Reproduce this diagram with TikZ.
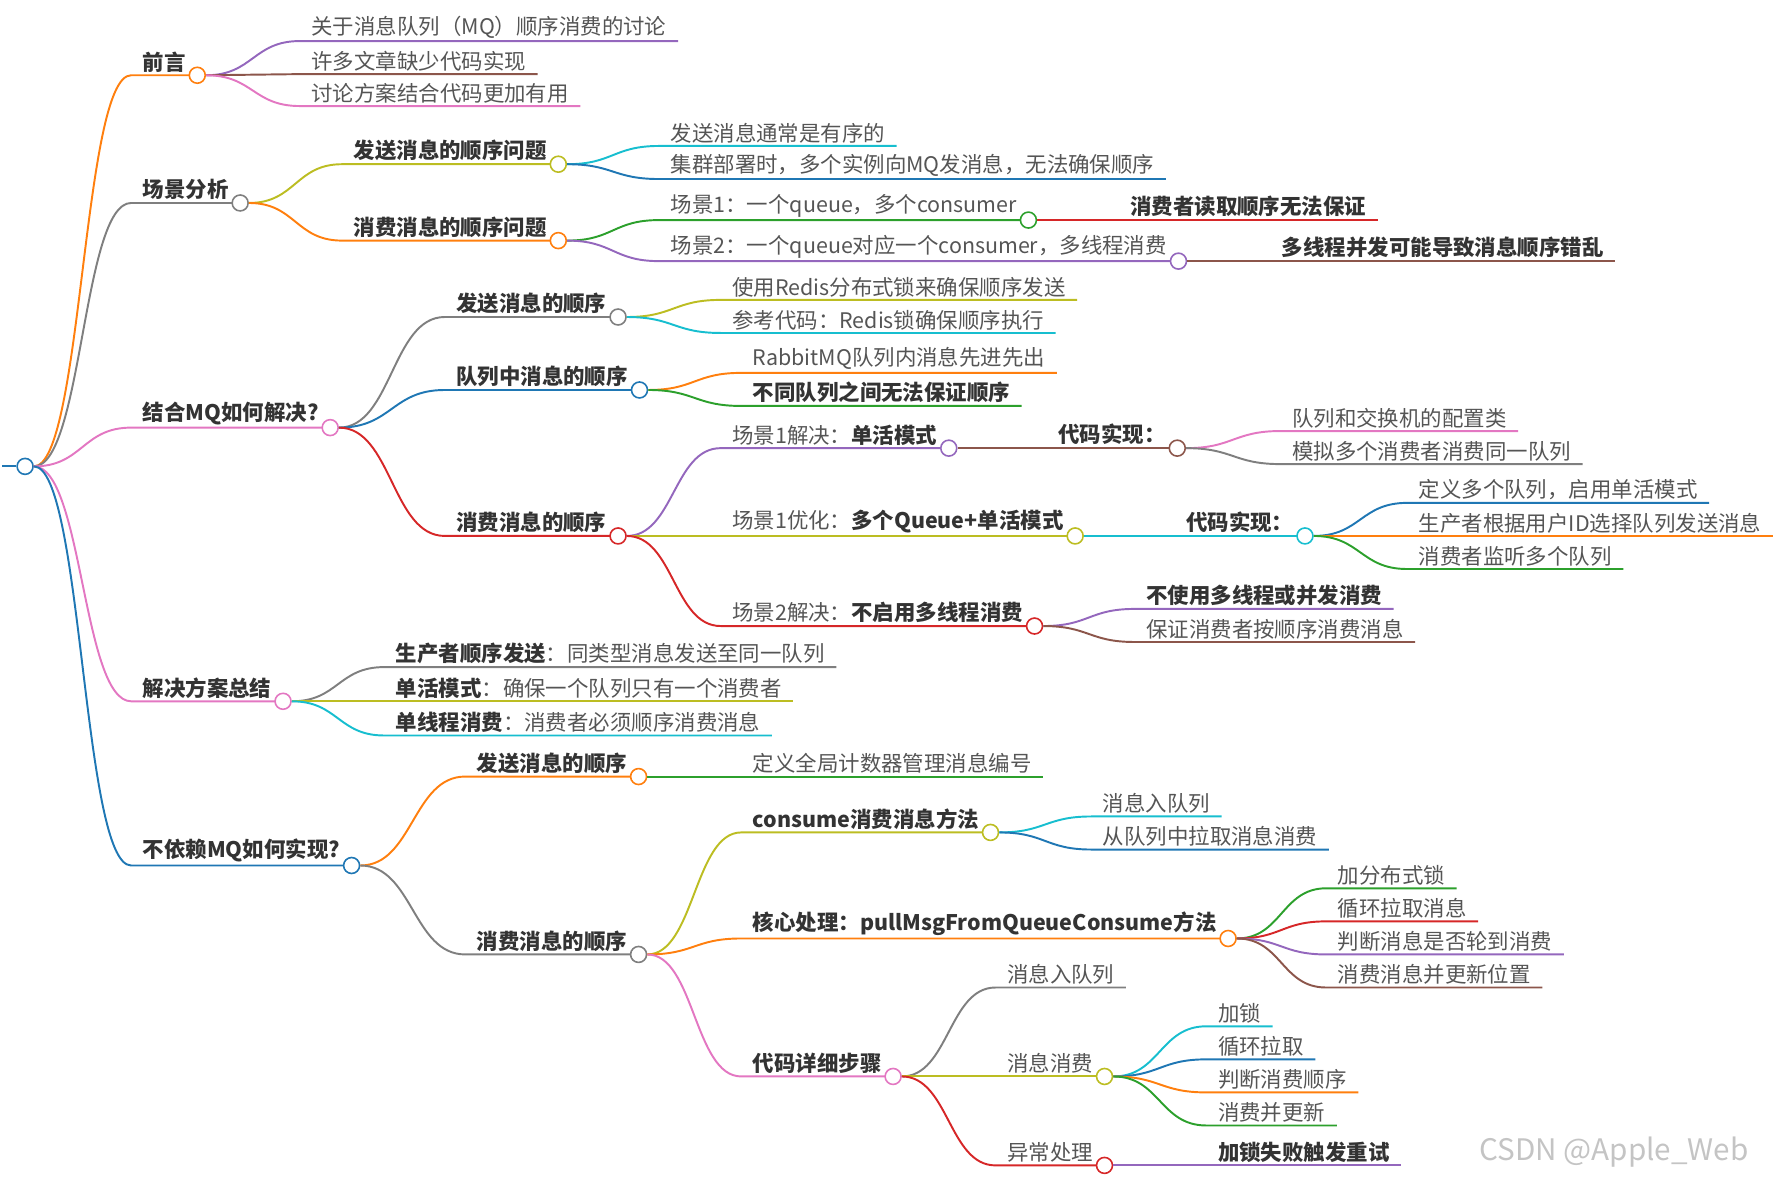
\documentclass[tikz,border=0pt]{standalone}
\usepackage{fontspec}
\setmainfont{Noto Sans CJK SC}
\usetikzlibrary{calc}
\definecolor{cblue}{HTML}{1F77B4}
\definecolor{corange}{HTML}{FF7F0E}
\definecolor{cgreen}{HTML}{2CA02C}
\definecolor{cred}{HTML}{D62728}
\definecolor{cpurple}{HTML}{9467BD}
\definecolor{cbrown}{HTML}{8C564B}
\definecolor{cpink}{HTML}{E377C2}
\definecolor{cgray}{HTML}{7F7F7F}
\definecolor{colive}{HTML}{BCBD22}
\definecolor{ccyan}{HTML}{17BECF}
\definecolor{leafgray}{HTML}{555555}
\definecolor{keygray}{HTML}{333333}
\definecolor{wmgray}{HTML}{C4C4C4}
\tikzset{
  leaf/.style={anchor=south west, inner xsep=10pt, inner ysep=2.5pt, text=leafgray, font=\fontsize{18.8}{21}\selectfont},
  key/.style={leaf, text=keygray, font=\fontsize{18.8}{21}\selectfont\bfseries},
  dot/.style={circle, fill=white, line width=1.4pt, minimum size=14pt, inner sep=0pt},
  br/.style={line width=1.7pt},
}
\newcommand{\bough}[3]{\draw[br,#1] let \p1=(#2.east), \p2=(#3.south west) in (\p1) .. controls ({(\x1+\x2)/2},\y1) and ({(\x1+\x2)/2},\y2) .. (\p2) -- (#3.south east);}
\newcommand{\hb}[1]{{\bfseries\color{keygray}#1}}
\begin{document}
\begin{tikzpicture}[x=1pt, y=-1pt]
\useasboundingbox (0,0) rectangle (1568,1035);

% root
\coordinate (stem) at (2,409);
\node[dot,draw=cblue] (root) at (22,409) {};
\draw[br,cblue] (stem) -- (root.west);

% 前言
\node[key] (qy) at (115,66) {前言};
\bough{corange}{root}{qy}
\node[dot,draw=corange] (qyo) at (qy.south east) {};
\node[leaf] (qy1) at (263,36) {关于消息队列（MQ）顺序消费的讨论};
\node[leaf] (qy2) at (263,65) {许多文章缺少代码实现};
\node[leaf] (qy3) at (263,93) {讨论方案结合代码更加有用};
\bough{cpurple}{qyo}{qy1}
\bough{cbrown}{qyo}{qy2}
\bough{cpink}{qyo}{qy3}

% 场景分析
\node[key] (cj) at (115,178) {场景分析};
\bough{cgray}{root}{cj}
\node[dot,draw=cgray] (cjo) at (cj.south east) {};
\node[key] (cj1) at (300,144) {发送消息的顺序问题};
\node[key] (cj2) at (300,211) {消费消息的顺序问题};
\bough{colive}{cjo}{cj1}
\bough{corange}{cjo}{cj2}
\node[dot,draw=colive] (cj1o) at (cj1.south east) {};
\node[dot,draw=corange] (cj2o) at (cj2.south east) {};
\node[leaf] (cj11) at (578,128) {发送消息通常是有序的};
\node[leaf] (cj12) at (578,157) {集群部署时，多个实例向MQ发消息，无法确保顺序};
\bough{ccyan}{cj1o}{cj11}
\bough{cblue}{cj1o}{cj12}
\node[leaf] (cj21) at (578,193) {场景1：一个queue，多个consumer};
\node[leaf] (cj22) at (578,229) {场景2：一个queue对应一个consumer，多线程消费};
\bough{cgreen}{cj2o}{cj21}
\bough{cpurple}{cj2o}{cj22}
\node[dot,draw=cgreen] (cj21o) at (cj21.south east) {};
\node[dot,draw=cpurple] (cj22o) at (cj22.south east) {};
\node[key] (cj211) at (981,193) {消费者读取顺序无法保证};
\node[key] (cj221) at (1114,229) {多线程并发可能导致消息顺序错乱};
\bough{cred}{cj21o}{cj211}
\bough{cbrown}{cj22o}{cj221}

% 结合MQ如何解决?
\node[key] (jh) at (115,375) {结合MQ如何解决?};
\bough{cpink}{root}{jh}
\node[dot,draw=cpink] (jho) at (jh.south east) {};
\node[key] (jh1) at (390,278) {发送消息的顺序};
\node[key] (jh2) at (390,342) {队列中消息的顺序};
\node[key] (jh3) at (390,470) {消费消息的顺序};
\bough{cgray}{jho}{jh1}
\bough{cblue}{jho}{jh2}
\bough{cred}{jho}{jh3}
\node[dot,draw=cgray] (jh1o) at (jh1.south east) {};
\node[dot,draw=cblue] (jh2o) at (jh2.south east) {};
\node[dot,draw=cred] (jh3o) at (jh3.south east) {};
\node[leaf] (jh11) at (632,263) {使用Redis分布式锁来确保顺序发送};
\node[leaf] (jh12) at (632,292) {参考代码：Redis锁确保顺序执行};
\bough{colive}{jh1o}{jh11}
\bough{ccyan}{jh1o}{jh12}
\node[leaf] (jh21) at (650,327) {RabbitMQ队列内消息先进先出};
\node[key] (jh22) at (650,356) {不同队列之间无法保证顺序};
\bough{corange}{jh2o}{jh21}
\bough{cgreen}{jh2o}{jh22}
\node[leaf] (jh31) at (632,393) {场景1解决：\hb{单活模式}};
\node[leaf] (jh32) at (632,470) {场景1优化：\hb{多个Queue+单活模式}};
\node[leaf] (jh33) at (632,549) {场景2解决：\hb{不启用多线程消费}};
\bough{cpurple}{jh3o}{jh31}
\bough{colive}{jh3o}{jh32}
\bough{cred}{jh3o}{jh33}
\node[dot,draw=cpurple] (jh31o) at (jh31.south east) {};
\node[dot,draw=colive] (jh32o) at (jh32.south east) {};
\node[dot,draw=cred] (jh33o) at (jh33.south east) {};
\node[key] (jh311) at (918,393) {代码实现：};
\bough{cbrown}{jh31o}{jh311}
\node[dot,draw=cbrown] (jh311o) at (jh311.south east) {};
\node[leaf] (jh3111) at (1123,378) {队列和交换机的配置类};
\node[leaf] (jh3112) at (1123,407) {模拟多个消费者消费同一队列};
\bough{cpink}{jh311o}{jh3111}
\bough{cgray}{jh311o}{jh3112}
\node[key] (jh321) at (1030,470) {代码实现：};
\bough{ccyan}{jh32o}{jh321}
\node[dot,draw=ccyan] (jh321o) at (jh321.south east) {};
\node[leaf] (jh3211) at (1234,441) {定义多个队列，启用单活模式};
\node[leaf] (jh3212) at (1234,470) {生产者根据用户ID选择队列发送消息};
\node[leaf] (jh3213) at (1234,499) {消费者监听多个队列};
\bough{cblue}{jh321o}{jh3211}
\bough{corange}{jh321o}{jh3212}
\bough{cgreen}{jh321o}{jh3213}
\node[key] (jh331) at (995,534) {不使用多线程或并发消费};
\node[leaf] (jh332) at (995,563) {保证消费者按顺序消费消息};
\bough{cpurple}{jh33o}{jh331}
\bough{cbrown}{jh33o}{jh332}

% 解决方案总结
\node[key] (zj) at (115,615) {解决方案总结};
\bough{cpink}{root}{zj}
\node[dot,draw=cpink] (zjo) at (zj.south east) {};
\node[leaf] (zj1) at (337,585) {\hb{生产者顺序发送}：同类型消息发送至同一队列};
\node[leaf] (zj2) at (337,615) {\hb{单活模式}：确保一个队列只有一个消费者};
\node[leaf] (zj3) at (337,645) {\hb{单线程消费}：消费者必须顺序消费消息};
\bough{cgray}{zjo}{zj1}
\bough{colive}{zjo}{zj2}
\bough{ccyan}{zjo}{zj3}

% 不依赖MQ如何实现?
\node[key] (by) at (115,759) {不依赖MQ如何实现?};
\bough{cblue}{root}{by}
\node[dot,draw=cblue] (byo) at (by.south east) {};
\node[key] (by1) at (408,681) {发送消息的顺序};
\node[key] (by2) at (408,837) {消费消息的顺序};
\bough{corange}{byo}{by1}
\bough{cgray}{byo}{by2}
\node[dot,draw=corange] (by1o) at (by1.south east) {};
\node[dot,draw=cgray] (by2o) at (by2.south east) {};
\node[leaf] (by11) at (650,681) {定义全局计数器管理消息编号};
\bough{cgreen}{by1o}{by11}
\node[key] (by21) at (650,730) {consume消费消息方法};
\node[key] (by22) at (650,823) {核心处理：pullMsgFromQueueConsume方法};
\node[key] (by23) at (650,944) {代码详细步骤};
\bough{colive}{by2o}{by21}
\bough{corange}{by2o}{by22}
\bough{cpink}{by2o}{by23}
\node[dot,draw=colive] (by21o) at (by21.south east) {};
\node[dot,draw=corange] (by22o) at (by22.south east) {};
\node[dot,draw=cpink] (by23o) at (by23.south east) {};
\node[leaf] (by211) at (957,716) {消息入队列};
\node[leaf] (by212) at (957,745) {从队列中拉取消息消费};
\bough{ccyan}{by21o}{by211}
\bough{cblue}{by21o}{by212}
\node[leaf] (by221) at (1163,779) {加分布式锁};
\node[leaf] (by222) at (1163,808) {循环拉取消息};
\node[leaf] (by223) at (1163,837) {判断消息是否轮到消费};
\node[leaf] (by224) at (1163,866) {消费消息并更新位置};
\bough{cgreen}{by22o}{by221}
\bough{cred}{by22o}{by222}
\bough{cpurple}{by22o}{by223}
\bough{cbrown}{by22o}{by224}
\node[leaf] (by231) at (873,866) {消息入队列};
\node[leaf] (by232) at (873,944) {消息消费};
\node[leaf] (by233) at (873,1022) {异常处理};
\bough{cgray}{by23o}{by231}
\bough{colive}{by23o}{by232}
\bough{cred}{by23o}{by233}
\node[dot,draw=colive] (by232o) at (by232.south east) {};
\node[dot,draw=cred] (by233o) at (by233.south east) {};
\node[leaf] (by2321) at (1058,900) {加锁};
\node[leaf] (by2322) at (1058,929) {循环拉取};
\node[leaf] (by2323) at (1058,958) {判断消费顺序};
\node[leaf] (by2324) at (1058,987) {消费并更新};
\bough{ccyan}{by232o}{by2321}
\bough{cblue}{by232o}{by2322}
\bough{corange}{by232o}{by2323}
\bough{cgreen}{by232o}{by2324}
\node[key] (by2331) at (1058,1022) {加锁失败触发重试};
\bough{cpurple}{by233o}{by2331}

\node[anchor=base east, text=wmgray, font=\fontsize{26}{28}\selectfont] (wm) at (1537,1018) {CSDN @Apple\_Web};
\end{tikzpicture}
\end{document}
